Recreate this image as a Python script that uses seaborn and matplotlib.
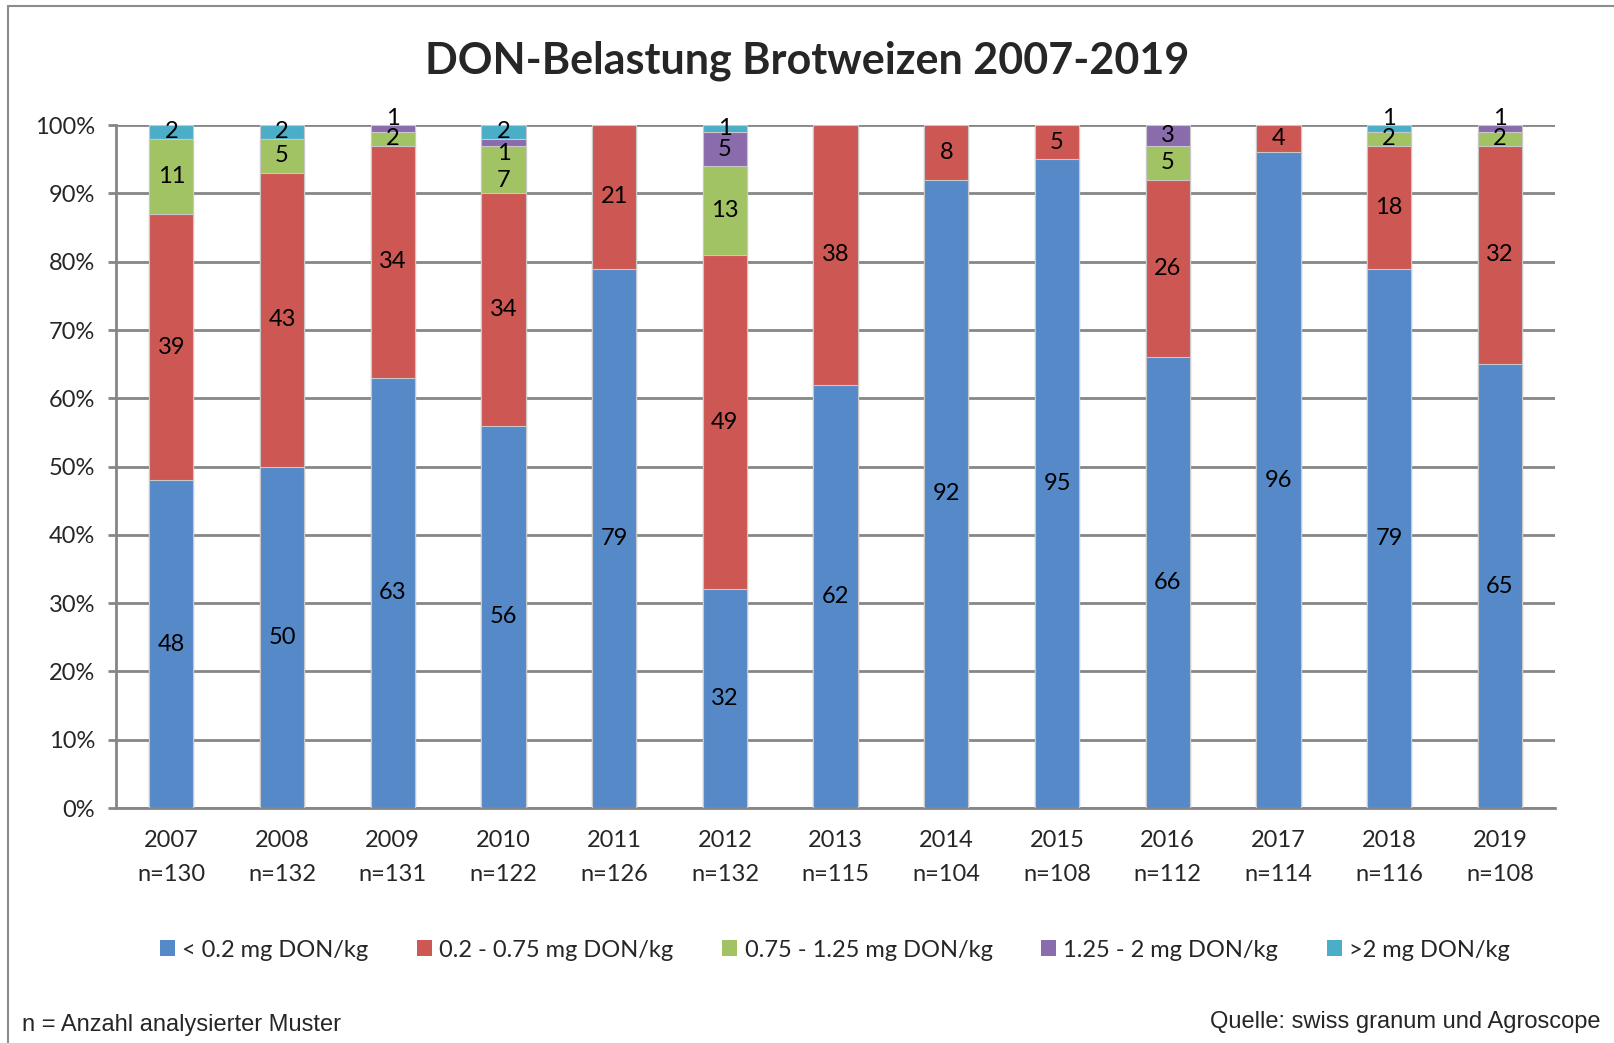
import numpy as np
import pandas as pd
import seaborn as sns
import matplotlib.pyplot as plt
from matplotlib.lines import Line2D
from matplotlib.patches import Patch

years = ["2007", "2008", "2009", "2010", "2011", "2012", "2013",
         "2014", "2015", "2016", "2017", "2018", "2019"]
n_samples = [130, 132, 131, 122, 126, 132, 115, 104, 108, 112, 114, 116, 108]

lt_02 = [48, 50, 63, 56, 79, 32, 62, 92, 95, 66, 96, 79, 65]
d02_075 = [39, 43, 34, 34, 21, 49, 38, 8, 5, 26, 4, 18, 32]
d075_125 = [11, 5, 2, 7, 0, 13, 0, 0, 0, 5, 0, 2, 2]
d125_2 = [0, 0, 1, 1, 0, 5, 0, 0, 0, 3, 0, 0, 1]
gt_2 = [2, 2, 0, 2, 0, 1, 0, 0, 0, 0, 0, 1, 0]

classes = ["< 0.2 mg DON/kg", "0.2 - 0.75 mg DON/kg", "0.75 - 1.25 mg DON/kg",
           "1.25 - 2 mg DON/kg", ">2 mg DON/kg"]
colors = ["#5589C8", "#CD5753", "#A2C363", "#8A6CAD", "#4BAEC8"]

series = [lt_02, d02_075, d075_125, d125_2, gt_2]
xlabels = [f"{y}\nn={n}" for y, n in zip(years, n_samples)]

df = pd.DataFrame({"year": xlabels})
for name, vals in zip(classes, series):
    df[name] = vals
cum = df[classes].cumsum(axis=1)

sns.set_style("white")
plt.rcParams["font.family"] = ["Lato", "DejaVu Sans"]

fig = plt.figure(figsize=(16.15, 10.43), dpi=100)
ax = fig.add_axes([0.0718, 0.2253, 0.8912, 0.6547])

# stacked bars: draw cumulative totals from top layer down
for name, col in reversed(list(zip(classes, colors))):
    sns.barplot(x=df["year"], y=cum[name], color=col, width=0.4, ax=ax,
                saturation=1, edgecolor="#c8c8c8", linewidth=0.8, zorder=3)

# segment labels, centred, with a small nudge where tiny segments collide
for i in range(len(years)):
    labels = []
    base = 0
    for name in classes:
        v = df[name].iloc[i]
        if v > 0:
            labels.append([v, base + v / 2])
        base += v
    for k in range(len(labels) - 1, 0, -1):
        upper, lower = labels[k], labels[k - 1]
        if upper[1] - lower[1] < 2.6:
            if k == len(labels) - 1 and upper[0] == 1:
                upper[1] += 1.5
            else:
                lower[1] -= 1.6
    for v, yc in labels:
        ax.text(i, yc, str(v), ha="center", va="center",
                fontsize=17, color="black", zorder=5)

ax.set_xlim(-0.5, 12.5)
ax.set_ylim(0, 100)
ax.set_yticks(range(0, 101, 10))
ax.set_yticklabels([f"{t}%" for t in range(0, 101, 10)])
ax.set_xlabel("")
ax.set_ylabel("")
ax.yaxis.grid(True, color="#868686", linewidth=2, zorder=0)
ax.set_axisbelow(True)
ax.tick_params(axis="y", labelsize=17, length=6, width=2, color="#868686", pad=9, left=True)
ax.tick_params(axis="x", labelsize=17, length=0, pad=16)
for lbl in ax.get_xticklabels():
    lbl.set_linespacing(1.75)
for s in ["top", "right"]:
    ax.spines[s].set_visible(False)
for s in ["left", "bottom"]:
    ax.spines[s].set_color("#868686")
    ax.spines[s].set_linewidth(2)

handles = [Patch(facecolor=c, edgecolor="none") for c in colors]
fig.legend(handles, classes, loc="center", bbox_to_anchor=(0.517, 0.089),
           ncol=5, frameon=False, fontsize=17, handlelength=0.65, handleheight=0.65,
           handletextpad=0.3, columnspacing=2.05)

fig.suptitle("DON-Belastung Brotweizen 2007-2019", fontsize=31, fontweight="bold",
             y=0.942, va="center")

fig.text(0.0136, 0.017, "n = Anzahl analysierter Muster", fontsize=17,
         family="Liberation Sans", ha="left", va="center")
fig.text(0.991, 0.020, "Quelle: swiss granum und Agroscope", fontsize=17,
         family="Liberation Sans", ha="right", va="center")

# outer frame (left and top)
fig.add_artist(Line2D([0.005, 0.005], [0, 0.994], color="#8c8c8c", lw=1.5))
fig.add_artist(Line2D([0.005, 1], [0.994, 0.994], color="#8c8c8c", lw=1.5))

fig.savefig("out.png", dpi=100)
